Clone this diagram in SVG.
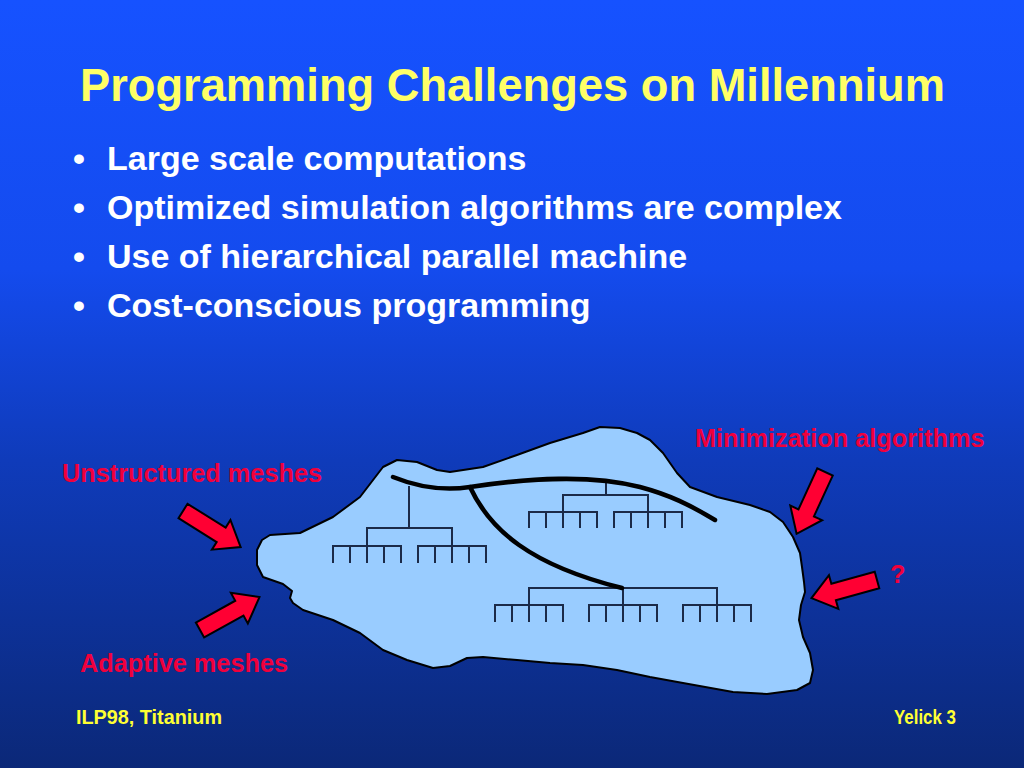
<svg xmlns="http://www.w3.org/2000/svg" width="1024" height="768" viewBox="0 0 1024 768">
<defs>
<linearGradient id="bg" x1="0" y1="0" x2="0" y2="1">
<stop offset="0" stop-color="#1652FF"/>
<stop offset="0.35" stop-color="#144BEE"/>
<stop offset="0.6" stop-color="#0F3BBA"/>
<stop offset="1" stop-color="#0B2878"/>
</linearGradient>
<polygon id="arr" points="0,-8.5 45,-8.5 45,-17.5 68,0 45,17.5 45,8.5 0,8.5"/>
</defs>
<style>
.title{font-family:"Liberation Sans",Arial,sans-serif;font-weight:bold;font-size:47px;fill:#FFFF66}
.bul{font-family:"Liberation Sans",Arial,sans-serif;font-weight:bold;font-size:34px;fill:#FFFFFF}
.lab{font-family:"Liberation Sans",Arial,sans-serif;font-weight:bold;font-size:25.3px;fill:#F0003C}
.foot{font-family:"Liberation Sans",Arial,sans-serif;font-weight:bold;font-size:19.5px;fill:#FFFF33}
.blob{fill:#99CCFF;stroke:#000;stroke-width:2;stroke-linejoin:round}
.thick{fill:none;stroke:#000;stroke-width:4.5;stroke-linecap:round}
.tree{fill:none;stroke:#1B2A48;stroke-width:2}
.arrow{fill:#FF0033;stroke:#000;stroke-width:2;stroke-linejoin:miter}
</style>
<rect width="1024" height="768" fill="url(#bg)"/>
<text class="title" x="80" y="101" textLength="865" lengthAdjust="spacingAndGlyphs">Programming Challenges on Millennium</text>
<g id="bullets">
<text class="bul" x="73" y="170">•</text><text class="bul" x="107" y="170">Large scale computations</text>
<text class="bul" x="73" y="219">•</text><text class="bul" x="107" y="219">Optimized simulation algorithms are complex</text>
<text class="bul" x="73" y="268">•</text><text class="bul" x="107" y="268">Use of hierarchical parallel machine</text>
<text class="bul" x="73" y="317">•</text><text class="bul" x="107" y="317">Cost-conscious programming</text>
</g>
<g id="machine">
<path class="blob" d="M270,535 L300,533 L333,517 L360,497 L383,467 L397,460 L417,462 L437,470 L450,472 L483,467 L517,455 L550,443 L583,433 L600,427 L620,428 L637,433 L650,440 L663,453 L677,473 L690,487 L717,497 L750,505 L770,512 L783,522 L793,537 L800,553 L802,567 L804,582 L805,592 L801,605 L799,620 L803,637 L810,653 L813,670 L810,683 L797,690 L767,694 L733,692 L683,683 L650,677 L617,670 L583,665 L550,663 L517,660 L483,657 L467,658 L450,666 L433,668 L407,660 L383,650 L360,633 L333,620 L303,610 L293,603 L290,598 L292,591 L283,584 L263,577 L257,565 L257,550 L262,540 Z"/>
</g>
<g id="tree1" class="tree">
<path d="M409,486 V528 M367,563 V528 H452 V563 M333,563 V546 H401 V563 M350,546 V563 M384,546 V563 M418,563 V546 H486 V563 M435,546 V563 M469,546 V563"/>
</g>
<g id="tree2" class="tree">
<path d="M606,482 V495 M563,528 V495 H648 V528 M529,528 V512 H597 V528 M546,512 V528 M580,512 V528 M614,528 V512 H682 V528 M631,512 V528 M665,512 V528"/>
</g>
<g id="tree3" class="tree">
<path d="M529,622 V588 H717 V622 M623,588 V622 M495,622 V605 H563 V622 M512,605 V622 M546,605 V622 M589,622 V605 H657 V622 M606,605 V622 M640,605 V622 M683,622 V605 H751 V622 M700,605 V622 M734,605 V622"/>
</g>
<g id="connectors">
<path class="thick" d="M393,477 C425,490 450,490 470,487 C530,478 590,474 640,487 C670,495 690,505 715,520"/>
<path class="thick" d="M470,487 C490,530 530,565 622,588"/>
</g>
<g id="arrows">
<use href="#arr" class="arrow" transform="translate(183,511) rotate(32)"/>
<use href="#arr" class="arrow" transform="translate(200,630) rotate(-29)"/>
<use href="#arr" class="arrow" transform="translate(825,472) rotate(114.7)"/>
<use href="#arr" class="arrow" transform="translate(877,580) rotate(164.5)"/>
</g>
<g id="labels">
<text class="lab" x="62" y="482">Unstructured meshes</text>
<text class="lab" x="80" y="672">Adaptive meshes</text>
<text class="lab" x="695" y="447">Minimization algorithms</text>
<text class="lab" x="890" y="583">?</text>
</g>
<g id="footer">
<text class="foot" x="76" y="724" textLength="146" lengthAdjust="spacingAndGlyphs">ILP98, Titanium</text>
<text class="foot" x="894" y="724" textLength="62" lengthAdjust="spacingAndGlyphs">Yelick 3</text>
</g>
</svg>
